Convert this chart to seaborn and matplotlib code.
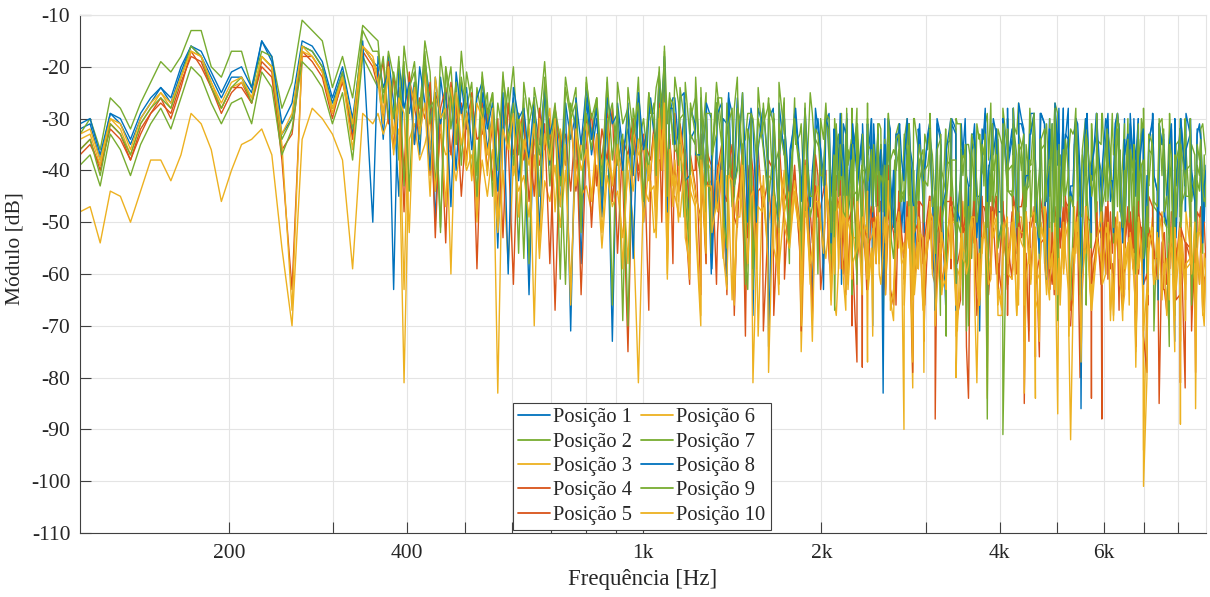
import numpy as np
import pandas as pd
import matplotlib
matplotlib.use("Agg")
import matplotlib.pyplot as plt
import seaborn as sns
from matplotlib.ticker import FixedLocator, FixedFormatter, NullFormatter, MultipleLocator, NullLocator

# ---------------- data ----------------
# sampling grids: smooth low part, noisy mid/high part, extra dense samples above 1 kHz and 2 kHz
F_LOW = np.geomspace(10 ** 2.05, 350, 30)
F_HIGH = np.geomspace(350, 10 ** 3.95, 161)[1:]
F_DENSE = np.geomspace(1030, 8800, 100)
F_DENSE2 = np.geomspace(2100, 8850, 80)

POS1_LOW = [-32, -31, -38, -29, -31, -35, -30, -27, -24, -27, -21, -16, -18, -22, -26,
            -22, -22, -25, -15, -19, -33, -30, -16, -17, -20, -27, -21, -33, -16, -19]
POS1_HIGH = [-20, -34, -18, -27, -45, -21, -29, -23, -37, -19, -26, -50, -22, -30, -25, -40, -23, -32, -28, -47,
             -25, -36, -29, -55, -27, -33, -26, -42, -30, -64, -28, -35, -24, -39, -31, -47, -27, -34, -29, -58,
             -26, -37, -30, -45, -28, -73, -27, -36, -32, -41, -26, -50, -29, -33, -24, -19, -30, -26, -38, -27,
             -34, -25, -41, -29, -60, -27, -36, -31, -46, -26, -39, -33, -68, -28, -35, -30, -44, -27, -37, -52,
             -29, -40, -32, -57, -28, -36, -31, -45, -34, -62, -30, -39, -35, -48, -31, -70, -33, -42, -30, -51,
             -32, -44, -35, -58, -31, -40, -36, -49, -33, -66, -34, -41, -31, -53, -37, -45, -32, -78, -35, -42,
             -30, -38, -28, -46, -33, -41, -29, -55, -31, -37, -28, -49, -34, -43, -30, -63, -32, -39, -29, -47,
             -31, -44, -29, -52, -33, -38, -30, -60, -35, -41, -31, -48, -34, -73, -32, -40, -30, -46, -33, -39]
POS1_DENSE = [-27, -38, -31, -44, -26, -35, -29, -53, -32, -40, -28, -36, -47, -30, -25, -39, -33, -58, -29, -37,
              -31, -43, -28, -50, -34, -38, -30, -46, -35, -65, -32, -41, -29, -48, -36, -33, -44, -31, -55, -37,
              -33, -46, -30, -41, -36, -52, -32, -39, -35, -60, -31, -45, -34, -38, -30, -49, -37, -43, -32, -71,
              -29, -42, -33, -48, -28, -37, -31, -55, -34, -40, -29, -46, -32, -39, -28, -58, -35, -43, -30, -50,
              -32, -45, -29, -41, -34, -53, -31, -38, -33, -47, -30, -64, -35, -42, -31, -49, -29, -40, -33, -44]
POS1_DENSE2 = [-34, -45, -31, -48, -36, -42, -33, -50, -30, -44, -35, -47, -32, -41, -37, -52, -31, -43, -34, -46,
               -33, -47, -30, -44, -35, -49, -32, -42, -36, -51, -31, -45, -34, -40, -30, -48, -35, -43, -32, -56,
               -31, -44, -29, -47, -34, -41, -30, -50, -33, -45, -28, -43, -35, -48, -31, -42, -29, -53, -34, -46,
               -32, -45, -30, -49, -34, -42, -31, -47, -29, -44, -35, -51, -32, -43, -30, -48, -33, -45, -31, -50]

POS2_LOW = [-33, -30, -36, -26, -28, -32, -27, -23, -19, -21, -18, -13, -13, -20, -22,
            -17, -17, -24, -17, -18, -28, -23, -11, -13, -15, -24, -18, -26, -12, -14]
POS2_HIGH = [-15, -27, -17, -22, -38, -16, -24, -19, -31, -15, -21, -44, -18, -26, -20, -35, -17, -28, -23, -41,
             -21, -31, -25, -50, -22, -29, -20, -37, -26, -58, -24, -30, -19, -34, -27, -43, -22, -29, -24, -52,
             -22, -33, -26, -40, -23, -66, -23, -31, -28, -37, -22, -46, -25, -29, -21, -16, -25, -22, -34, -23,
             -30, -22, -37, -25, -56, -23, -32, -27, -42, -22, -35, -29, -63, -24, -31, -26, -40, -23, -33, -48,
             -26, -33, -49, -25, -38, -30, -27, -61, -35, -29, -43, -28, -34, -54, -27, -40, -31, -70, -29, -36,
             -31, -36, -52, -30, -42, -33, -29, -47, -68, -32, -38, -30, -44, -35, -57, -31, -40, -29, -49, -34,
             -28, -44, -31, -27, -52, -35, -29, -40, -58, -30, -27, -37, -45, -32, -28, -49, -66, -31, -36, -29,
             -33, -29, -47, -38, -30, -55, -32, -28, -43, -71, -31, -36, -29, -50, -34, -30, -42, -61, -32, -37]
POS2_DENSE = [-29, -24, -40, -31, -35, -27, -49, -33, -26, -42, -30, -38, -25, -55, -32, -28, -44, -34, -29, -40,
              -33, -28, -45, -36, -30, -52, -35, -31, -41, -29, -60, -34, -38, -30, -47, -33, -39, -28, -43, -36,
              -35, -31, -48, -38, -33, -44, -30, -57, -36, -40, -32, -51, -37, -34, -46, -31, -66, -35, -41, -33,
              -31, -27, -44, -35, -30, -50, -33, -39, -28, -47, -34, -31, -56, -29, -42, -36, -32, -48, -30, -38,
              -34, -29, -46, -37, -31, -52, -35, -40, -30, -61, -33, -43, -36, -32, -49, -30, -45, -35, -39, -31]
POS2_DENSE2 = [-38, -33, -49, -36, -44, -31, -51, -39, -35, -46, -32, -53, -40, -37, -47, -34, -42, -30, -50, -38,
               -36, -45, -33, -52, -39, -35, -48, -31, -43, -37, -55, -34, -41, -38, -47, -32, -50, -36, -44, -33,
               -35, -47, -32, -50, -38, -34, -45, -30, -52, -37, -41, -33, -49, -36, -43, -31, -54, -35, -46, -39,
               -34, -48, -31, -44, -37, -51, -33, -42, -36, -49, -30, -46, -38, -35, -53, -32, -45, -37, -41, -34]

POS3_LOW = [-48, -47, -54, -44, -45, -50, -44, -38, -38, -42, -37, -29, -31, -36, -46,
            -40, -35, -34, -32, -37, -55, -70, -34, -28, -30, -33, -38, -59, -29, -31]
POS3_HIGH = [-29, -33, -30, -36, -32, -81, -34, -31, -38, -35, -30, -44, -33, -37, -36, -42, -34, -40, -37, -47,
             -38, -45, -36, -52, -40, -58, -39, -44, -41, -49, -37, -57, -42, -46, -39, -51, -40, -62, -38, -45,
             -43, -48, -39, -55, -41, -47, -44, -53, -40, -50, -81, -43, -46, -52, -38, -33, -41, -45, -49, -40,
             -44, -51, -39, -58, -42, -47, -53, -41, -65, -45, -49, -56, -43, -72, -46, -50, -42, -59, -47, -54,
             -45, -55, -48, -62, -44, -51, -57, -46, -68, -50, -53, -47, -60, -49, -77, -52, -48, -58, -51, -64,
             -55, -90, -50, -59, -53, -66, -49, -57, -52, -61, -48, -72, -54, -58, -51, -63, -56, -84, -50, -60,
             -53, -62, -49, -58, -55, -71, -51, -60, -47, -57, -54, -66, -50, -59, -56, -80, -52, -61, -48, -58,
             -55, -63, -51, -69, -54, -59, -50, -94, -56, -62, -52, -60, -57, -75, -53, -61, -49, -67, -55, -59]
POS3_DENSE = [-42, -51, -38, -60, -45, -48, -40, -55, -47, -70, -43, -50, -39, -57, -46, -49, -42, -63, -44, -52,
              -46, -55, -43, -62, -49, -52, -45, -75, -48, -57, -44, -53, -50, -66, -47, -56, -43, -60, -51, -54,
              -49, -58, -46, -64, -52, -55, -48, -82, -51, -60, -47, -57, -53, -68, -50, -59, -46, -63, -54, -56,
              -51, -60, -47, -66, -54, -57, -49, -73, -53, -62, -48, -58, -55, -87, -50, -61, -47, -64, -56, -59,
              -52, -61, -48, -65, -55, -58, -50, -78, -54, -63, -49, -59, -57, -70, -51, -62, -48, -67, -56, -60]
POS3_DENSE2 = [-48, -58, -45, -62, -51, -55, -47, -60, -53, -57, -46, -63, -50, -56, -48, -61, -52, -54, -47, -66,
               -50, -59, -47, -63, -53, -56, -49, -61, -54, -58, -48, -65, -51, -57, -50, -62, -55, -59, -49, -68,
               -49, -58, -46, -62, -52, -56, -48, -60, -53, -57, -47, -64, -50, -55, -49, -61, -54, -59, -48, -67,
               -50, -59, -47, -63, -53, -57, -49, -61, -54, -58, -48, -65, -51, -56, -50, -62, -55, -60, -49, -66]

POS4_LOW = [-36, -34, -40, -31, -33, -38, -32, -29, -27, -29, -23, -18, -19, -24, -29,
            -25, -23, -27, -19, -21, -38, -63, -18, -18, -21, -29, -23, -31, -16, -19]
POS4_HIGH = [-21, -30, -19, -36, -24, -48, -22, -28, -33, -20, -41, -25, -29, -54, -23, -31, -27, -38, -25, -59,
             -27, -40, -31, -48, -26, -35, -62, -29, -38, -32, -45, -28, -36, -30, -67, -33, -39, -29, -44, -34,
             -30, -51, -33, -38, -29, -46, -35, -41, -75, -31, -40, -34, -37, -32, -27, -22, -34, -40, -31, -49,
             -37, -45, -33, -58, -39, -43, -35, -64, -41, -47, -36, -53, -40, -44, -71, -38, -46, -34, -50, -42,
             -39, -56, -42, -48, -37, -63, -44, -50, -41, -59, -45, -52, -40, -78, -46, -51, -43, -57, -39, -66,
             -47, -55, -43, -62, -49, -53, -45, -88, -50, -57, -46, -61, -44, -54, -52, -68, -47, -56, -45, -60,
             -46, -59, -50, -54, -44, -73, -48, -57, -52, -63, -47, -55, -45, -70, -51, -58, -49, -84, -46, -56,
             -49, -58, -53, -66, -47, -55, -51, -62, -45, -57, -85, -52, -59, -48, -64, -54, -50, -79, -47, -60]
POS4_DENSE = [-38, -47, -35, -56, -41, -44, -37, -62, -43, -49, -36, -53, -40, -45, -38, -68, -42, -48, -37, -54,
              -43, -52, -40, -59, -46, -49, -42, -71, -45, -54, -41, -57, -47, -50, -43, -64, -48, -53, -42, -60,
              -47, -56, -44, -63, -50, -53, -46, -79, -49, -58, -45, -61, -51, -55, -47, -68, -52, -57, -46, -65,
              -48, -57, -45, -64, -51, -54, -47, -85, -50, -59, -46, -62, -52, -56, -48, -70, -53, -58, -47, -66,
              -49, -58, -46, -65, -52, -55, -48, -74, -51, -60, -47, -63, -53, -57, -49, -81, -54, -59, -48, -67]
POS4_DENSE2 = [-46, -55, -50, -60, -44, -57, -49, -63, -47, -54, -51, -59, -45, -62, -48, -56, -52, -61, -46, -58,
               -48, -57, -52, -62, -46, -59, -51, -65, -49, -56, -53, -61, -47, -64, -50, -58, -54, -63, -48, -60,
               -47, -56, -51, -61, -45, -58, -50, -64, -48, -55, -52, -60, -46, -63, -49, -57, -53, -62, -47, -59,
               -49, -58, -53, -63, -47, -60, -52, -66, -50, -57, -54, -62, -48, -65, -51, -59, -55, -64, -49, -61]

POS5_LOW = [-37, -35, -39, -32, -34, -38, -33, -29, -26, -30, -24, -17, -20, -24, -28,
            -24, -24, -27, -20, -22, -36, -33, -17, -19, -22, -30, -22, -34, -17, -20]
POS5_HIGH = [-24, -19, -31, -22, -27, -40, -21, -35, -26, -30, -23, -53, -28, -24, -37, -27, -45, -30, -26, -34,
             -33, -28, -42, -30, -53, -27, -37, -32, -29, -46, -34, -39, -31, -58, -28, -36, -33, -44, -30, -64,
             -35, -29, -43, -32, -38, -28, -56, -34, -37, -30, -42, -33, -67, -31, -30, -24, -33, -29, -44, -36,
             -40, -34, -48, -37, -44, -62, -38, -46, -35, -51, -41, -39, -56, -36, -47, -42, -68, -38, -45, -43,
             -41, -50, -38, -55, -43, -47, -40, -61, -45, -49, -42, -70, -44, -53, -46, -48, -41, -64, -47, -52,
             -44, -58, -48, -52, -46, -65, -50, -55, -47, -60, -43, -57, -51, -74, -49, -54, -45, -62, -52, -56,
             -48, -55, -45, -63, -50, -57, -47, -76, -53, -58, -49, -54, -46, -67, -52, -60, -48, -57, -51, -88,
             -47, -56, -52, -61, -49, -58, -46, -72, -51, -55, -48, -63, -53, -57, -50, -82, -46, -59, -54, -58]
POS5_DENSE = [-41, -36, -50, -39, -58, -43, -38, -47, -40, -64, -42, -37, -52, -44, -39, -49, -41, -72, -45, -38,
              -47, -42, -55, -45, -61, -48, -43, -52, -46, -69, -49, -44, -57, -47, -42, -54, -48, -77, -50, -45,
              -51, -46, -59, -49, -66, -52, -47, -56, -50, -73, -53, -48, -61, -51, -46, -58, -52, -84, -54, -49,
              -52, -47, -60, -50, -68, -53, -48, -57, -51, -76, -54, -49, -62, -52, -47, -59, -53, -80, -55, -50,
              -53, -48, -61, -51, -67, -54, -49, -58, -52, -79, -55, -50, -63, -53, -48, -60, -54, -71, -56, -51]
POS5_DENSE2 = [-52, -47, -60, -50, -57, -45, -62, -53, -49, -58, -46, -64, -51, -55, -48, -61, -54, -50, -59, -47,
               -54, -49, -62, -52, -59, -47, -64, -55, -51, -60, -48, -66, -53, -57, -50, -63, -56, -52, -61, -49,
               -53, -48, -61, -51, -58, -46, -63, -54, -50, -59, -47, -65, -52, -56, -49, -62, -55, -51, -60, -48,
               -55, -50, -63, -53, -60, -48, -65, -56, -52, -61, -49, -67, -54, -58, -51, -64, -57, -53, -62, -50]

POS6_LOW = [-34, -33, -39, -30, -32, -37, -31, -28, -25, -28, -22, -17, -18, -23, -28,
            -24, -23, -26, -18, -20, -35, -67, -17, -18, -21, -29, -22, -36, -16, -18]
POS6_HIGH = [-22, -29, -20, -33, -25, -63, -23, -27, -31, -21, -36, -26, -29, -47, -24, -32, -28, -39, -26, -50,
             -28, -37, -30, -50, -27, -33, -41, -29, -36, -31, -70, -30, -35, -28, -48, -32, -38, -29, -43, -35,
             -31, -46, -34, -39, -30, -43, -36, -40, -58, -32, -37, -35, -42, -33, -28, -25, -35, -38, -32, -47,
             -38, -44, -35, -52, -40, -42, -36, -60, -43, -46, -37, -49, -81, -39, -45, -41, -55, -38, -48, -44,
             -42, -51, -39, -58, -45, -49, -41, -65, -44, -53, -40, -57, -46, -50, -43, -60, -47, -52, -42, -69,
             -48, -54, -45, -60, -50, -57, -46, -64, -52, -56, -47, -80, -51, -58, -49, -61, -53, -55, -48, -66,
             -50, -58, -47, -62, -52, -56, -48, -68, -54, -59, -49, -61, -53, -92, -50, -57, -47, -63, -55, -58,
             -52, -60, -48, -64, -54, -57, -50, -71, -53, -61, -49, -58, -56, -66, -51, -62, -48, -86, -53, -57]
POS6_DENSE = [-40, -49, -37, -57, -43, -46, -39, -61, -44, -51, -38, -54, -42, -47, -40, -66, -45, -50, -39, -56,
              -45, -54, -42, -60, -48, -51, -44, -70, -47, -55, -43, -58, -49, -52, -45, -63, -50, -53, -44, -61,
              -50, -58, -47, -65, -53, -56, -49, -77, -52, -60, -48, -62, -54, -57, -50, -69, -55, -59, -49, -64,
              -52, -60, -49, -67, -55, -58, -51, -83, -54, -62, -50, -64, -56, -59, -52, -72, -57, -61, -51, -66,
              -53, -61, -50, -68, -56, -59, -52, -75, -55, -63, -51, -65, -57, -60, -53, -89, -58, -62, -52, -67]
POS6_DENSE2 = [-50, -59, -47, -63, -53, -56, -49, -61, -55, -58, -48, -64, -52, -57, -50, -62, -54, -55, -49, -67,
               -51, -60, -48, -64, -54, -57, -50, -62, -56, -59, -49, -66, -53, -58, -51, -63, -55, -56, -50, -68,
               -52, -61, -49, -65, -55, -58, -51, -63, -57, -60, -50, -67, -54, -59, -52, -64, -56, -57, -51, -69,
               -53, -62, -50, -66, -56, -59, -52, -64, -58, -61, -51, -68, -55, -60, -53, -65, -57, -58, -52, -70]

POS7_LOW = [-39, -37, -43, -33, -36, -41, -35, -31, -28, -32, -26, -20, -22, -27, -31,
            -27, -26, -31, -21, -24, -37, -32, -19, -21, -24, -31, -25, -38, -18, -22]
POS7_HIGH = [-24, -18, -30, -21, -27, -19, -44, -23, -28, -17, -31, -25, -52, -20, -26, -35, -22, -29, -41, -24,
             -30, -25, -45, -27, -33, -24, -39, -29, -57, -26, -31, -37, -25, -43, -28, -34, -62, -27, -32, -38,
             -29, -36, -26, -48, -31, -27, -39, -33, -70, -28, -35, -30, -41, -27, -22, -18, -28, -36, -30, -45,
             -33, -26, -40, -29, -51, -27, -35, -31, -47, -28, -38, -32, -59, -30, -36, -27, -43, -31, -37, -55,
             -32, -41, -29, -49, -34, -37, -31, -56, -35, -40, -30, -46, -36, -63, -33, -39, -31, -48, -35, -42,
             -36, -45, -33, -52, -38, -42, -34, -60, -37, -44, -35, -49, -39, -71, -36, -43, -34, -51, -38, -46,
             -91, -44, -31, -50, -36, -41, -33, -57, -35, -46, -32, -48, -37, -65, -34, -42, -31, -53, -36, -45,
             -35, -46, -32, -52, -37, -43, -34, -59, -36, -47, -33, -50, -38, -68, -35, -44, -32, -55, -37, -47]
POS7_DENSE = [-30, -41, -27, -48, -33, -37, -29, -56, -35, -43, -31, -39, -28, -51, -34, -45, -30, -62, -36, -40,
              -34, -45, -31, -52, -37, -41, -33, -58, -39, -47, -35, -43, -32, -67, -38, -49, -34, -44, -40, -54,
              -37, -48, -34, -55, -40, -44, -36, -61, -42, -50, -38, -46, -35, -72, -41, -52, -37, -47, -43, -57,
              -35, -46, -32, -53, -38, -42, -34, -59, -40, -48, -36, -44, -33, -69, -39, -50, -35, -45, -41, -55,
              -36, -47, -33, -54, -39, -43, -35, -60, -41, -49, -37, -45, -34, -74, -40, -51, -36, -46, -42, -56]
POS7_DENSE2 = [-41, -36, -48, -39, -45, -34, -52, -40, -37, -47, -35, -50, -42, -38, -46, -33, -49, -40, -44, -36,
               -43, -37, -51, -40, -46, -35, -53, -41, -38, -48, -36, -50, -43, -39, -47, -34, -55, -41, -45, -37,
               -40, -35, -49, -38, -44, -33, -51, -39, -36, -47, -34, -52, -41, -37, -45, -32, -48, -40, -43, -36,
               -42, -36, -50, -39, -46, -34, -53, -40, -37, -48, -35, -51, -42, -38, -47, -33, -49, -41, -44, -37]

POS8_LOW = [-31, -30, -37, -29, -30, -34, -29, -26, -24, -26, -20, -16, -17, -21, -25,
            -21, -20, -24, -15, -18, -31, -27, -15, -16, -19, -26, -20, -30, -15, -50]
POS8_HIGH = [-18, -24, -21, -63, -19, -28, -23, -35, -20, -27, -40, -22, -31, -25, -47, -21, -29, -24, -36, -26,
             -23, -32, -27, -44, -25, -60, -24, -30, -28, -38, -26, -52, -25, -33, -29, -41, -27, -71, -26, -35,
             -24, -34, -28, -49, -26, -31, -29, -40, -27, -57, -25, -36, -30, -32, -22, -18, -28, -35, -26, -42,
             -28, -37, -26, -45, -30, -34, -27, -62, -29, -39, -25, -50, -31, -36, -28, -74, -30, -38, -27, -44,
             -31, -39, -28, -47, -33, -36, -30, -54, -32, -41, -29, -60, -34, -38, -31, -49, -33, -83, -30, -40,
             -33, -42, -31, -50, -35, -39, -32, -58, -34, -44, -30, -67, -36, -41, -33, -53, -35, -46, -31, -43,
             -30, -39, -28, -48, -32, -41, -29, -56, -31, -38, -27, -51, -33, -44, -30, -86, -32, -40, -29, -47,
             -31, -42, -29, -54, -33, -39, -30, -62, -34, -41, -31, -49, -35, -60, -32, -43, -30, -52, -34, -40]
POS8_DENSE = [-26, -35, -30, -48, -28, -33, -25, -41, -31, -37, -27, -59, -29, -34, -26, -43, -32, -38, -28, -50,
              -29, -38, -33, -51, -31, -36, -28, -44, -34, -40, -30, -63, -32, -37, -29, -46, -35, -41, -31, -53,
              -31, -40, -35, -53, -33, -38, -30, -46, -36, -42, -32, -67, -34, -39, -31, -48, -37, -43, -33, -55,
              -28, -37, -32, -50, -30, -35, -27, -43, -33, -39, -29, -61, -31, -36, -28, -45, -34, -40, -30, -52,
              -30, -39, -34, -52, -32, -37, -29, -45, -35, -41, -31, -65, -33, -38, -30, -47, -36, -42, -32, -54]
POS8_DENSE2 = [-32, -40, -35, -46, -31, -43, -34, -49, -30, -41, -36, -45, -33, -52, -31, -39, -35, -47, -32, -42,
               -34, -44, -31, -48, -36, -41, -33, -50, -30, -43, -35, -46, -32, -40, -37, -54, -31, -42, -34, -47,
               -30, -41, -33, -45, -29, -43, -32, -48, -28, -40, -34, -46, -31, -51, -29, -39, -33, -44, -30, -42,
               -31, -43, -34, -47, -30, -40, -32, -49, -29, -44, -35, -45, -31, -53, -30, -41, -33, -46, -32, -43]

POS9_LOW = [-36, -34, -41, -31, -33, -37, -31, -28, -26, -28, -22, -16, -18, -24, -28,
            -24, -22, -27, -18, -20, -34, -30, -16, -17, -20, -28, -21, -32, -13, -17]
POS9_HIGH = [-17, -25, -22, -30, -18, -43, -24, -21, -34, -19, -28, -26, -51, -20, -32, -23, -39, -21, -27, -45,
             -22, -29, -25, -40, -21, -35, -27, -56, -23, -31, -26, -45, -22, -37, -28, -61, -24, -30, -27, -48,
             -23, -30, -26, -43, -22, -38, -28, -69, -24, -33, -27, -46, -25, -31, -20, -17, -26, -31, -24, -40,
             -27, -36, -24, -48, -29, -33, -26, -55, -28, -40, -25, -63, -30, -35, -27, -46, -29, -38, -26, -58,
             -30, -38, -27, -45, -32, -41, -29, -52, -31, -37, -28, -64, -33, -40, -30, -48, -32, -43, -29, -57,
             -33, -44, -31, -49, -35, -40, -32, -56, -34, -45, -30, -62, -36, -42, -33, -50, -35, -88, -31, -46,
             -31, -40, -28, -47, -33, -43, -29, -53, -32, -39, -28, -49, -34, -45, -30, -58, -33, -41, -29, -50,
             -32, -44, -29, -51, -34, -40, -31, -57, -33, -46, -30, -48, -35, -63, -32, -42, -30, -53, -34, -45]
POS9_DENSE = [-28, -36, -32, -45, -27, -39, -30, -52, -33, -41, -29, -37, -26, -48, -31, -43, -34, -57, -29, -38,
              -32, -40, -36, -49, -31, -43, -34, -56, -37, -45, -33, -41, -30, -52, -35, -47, -38, -62, -33, -42,
              -35, -43, -39, -52, -34, -46, -37, -59, -40, -48, -36, -44, -33, -55, -38, -50, -41, -70, -36, -45,
              -33, -41, -37, -50, -32, -44, -35, -57, -38, -46, -34, -42, -31, -53, -36, -48, -39, -64, -34, -43,
              -34, -42, -38, -51, -33, -45, -36, -58, -39, -47, -35, -43, -32, -54, -37, -49, -40, -66, -35, -44]
POS9_DENSE2 = [-37, -45, -40, -49, -35, -47, -39, -51, -36, -44, -41, -48, -38, -53, -35, -46, -40, -50, -37, -43,
               -39, -47, -36, -50, -41, -45, -38, -52, -35, -48, -42, -46, -37, -49, -40, -55, -36, -44, -39, -51,
               -36, -44, -39, -48, -34, -46, -38, -50, -35, -43, -40, -47, -37, -52, -34, -45, -39, -49, -36, -42,
               -37, -46, -40, -50, -35, -44, -38, -52, -36, -47, -41, -45, -37, -49, -35, -43, -39, -51, -38, -46]

POS10_LOW = [-33, -32, -38, -30, -31, -36, -30, -27, -25, -27, -22, -17, -18, -23, -27,
             -23, -22, -26, -18, -20, -33, -29, -16, -18, -21, -28, -22, -31, -16, -19]
POS10_HIGH = [-23, -31, -20, -37, -26, -29, -52, -24, -33, -27, -45, -22, -30, -28, -60, -25, -35, -29, -42, -27,
              -30, -41, -28, -83, -32, -36, -29, -49, -34, -39, -31, -55, -33, -38, -30, -47, -35, -66, -32, -40,
              -36, -45, -33, -52, -38, -42, -35, -59, -37, -44, -34, -50, -39, -43, -30, -27, -36, -41, -35, -53,
              -41, -48, -38, -56, -43, -46, -40, -63, -42, -49, -39, -58, -44, -47, -41, -79, -45, -50, -40, -55,
              -44, -52, -41, -59, -46, -50, -43, -66, -48, -54, -45, -61, -47, -51, -44, -72, -49, -55, -46, -63,
              -50, -57, -47, -64, -52, -59, -48, -70, -54, -58, -50, -62, -53, -60, -49, -81, -55, -58, -51, -65,
              -52, -60, -49, -66, -55, -58, -50, -73, -54, -61, -51, -64, -56, -59, -53, -77, -50, -62, -55, -58,
              -54, -61, -51, -67, -56, -59, -52, -101, -55, -62, -53, -60, -57, -69, -54, -63, -51, -72, -56, -60]
POS10_DENSE = [-44, -53, -40, -61, -47, -50, -42, -58, -46, -68, -43, -52, -48, -56, -41, -63, -49, -51, -45, -59,
               -48, -57, -45, -64, -51, -54, -47, -62, -50, -73, -46, -56, -52, -60, -45, -67, -53, -55, -49, -63,
               -52, -60, -49, -67, -55, -58, -51, -65, -54, -79, -50, -59, -56, -63, -49, -71, -57, -58, -53, -66,
               -53, -61, -50, -68, -56, -59, -52, -66, -55, -84, -51, -60, -57, -64, -50, -72, -58, -59, -54, -67,
               -54, -62, -51, -69, -57, -60, -53, -67, -56, -80, -52, -61, -58, -65, -51, -73, -59, -60, -55, -68]
POS10_DENSE2 = [-53, -47, -61, -50, -58, -46, -64, -52, -56, -49, -62, -54, -48, -60, -51, -66, -55, -47, -59, -53,
                -55, -49, -63, -52, -60, -48, -66, -54, -58, -51, -64, -56, -50, -62, -53, -68, -57, -49, -61, -55,
                -54, -48, -62, -51, -59, -47, -65, -53, -57, -50, -63, -55, -49, -61, -52, -67, -56, -48, -60, -54,
                -56, -50, -64, -53, -61, -49, -67, -55, -59, -52, -65, -57, -51, -63, -54, -69, -58, -50, -62, -56]

LABELS = [f"Posição {i}" for i in range(1, 11)]
COLORS = ["#0072BD", "#77AC30", "#EDB120", "#D95319", "#D95319",
          "#EDB120", "#77AC30", "#0072BD", "#77AC30", "#EDB120"]
SERIES = [(POS1_LOW, POS1_HIGH, POS1_DENSE, POS1_DENSE2),
          (POS2_LOW, POS2_HIGH, POS2_DENSE, POS2_DENSE2),
          (POS3_LOW, POS3_HIGH, POS3_DENSE, POS3_DENSE2),
          (POS4_LOW, POS4_HIGH, POS4_DENSE, POS4_DENSE2),
          (POS5_LOW, POS5_HIGH, POS5_DENSE, POS5_DENSE2),
          (POS6_LOW, POS6_HIGH, POS6_DENSE, POS6_DENSE2),
          (POS7_LOW, POS7_HIGH, POS7_DENSE, POS7_DENSE2),
          (POS8_LOW, POS8_HIGH, POS8_DENSE, POS8_DENSE2),
          (POS9_LOW, POS9_HIGH, POS9_DENSE, POS9_DENSE2),
          (POS10_LOW, POS10_HIGH, POS10_DENSE, POS10_DENSE2)]

XMAJOR = [200, 400, 1000, 2000, 4000, 6000]
XMAJOR_LABELS = ["200", "400", "1k", "2k", "4k", "6k"]
XMINOR = [300, 500, 600, 700, 800, 900, 3000, 5000, 7000, 8000]

# ---------------- build long table ----------------
grids = [F_LOW, F_HIGH, F_DENSE, F_DENSE2]
freq = np.concatenate(grids)
order = np.argsort(freq, kind="stable")
frames = []
for lab, parts in zip(LABELS, SERIES):
    for g, p in zip(grids, parts):
        assert len(g) == len(p), (lab, len(g), len(p))
    vals = np.array(sum(parts, []), float)
    frames.append(pd.DataFrame({"freq": freq[order], "db": vals[order], "pos": lab}))
df = pd.concat(frames, ignore_index=True)

# ---------------- style ----------------
sns.set_theme(style="white")
plt.rcParams["font.family"] = ["Liberation Serif", "DejaVu Serif"]
plt.rcParams["axes.unicode_minus"] = False

fig = plt.figure(figsize=(12.1, 5.97), dpi=100)
ax = fig.add_axes([80 / 1210, 64 / 597, 1126 / 1210, 518 / 597])

sns.lineplot(data=df, x="freq", y="db", hue="pos", hue_order=LABELS,
             palette=dict(zip(LABELS, COLORS)), estimator=None, sort=False,
             linewidth=1.0, ax=ax)

ax.set_xscale("log")
ax.set_xlim(10 ** 2.05, 10 ** 3.95)
ax.set_ylim(-110, -10)

ax.xaxis.set_major_locator(FixedLocator(XMAJOR))
ax.xaxis.set_major_formatter(FixedFormatter(XMAJOR_LABELS))
ax.xaxis.set_minor_locator(FixedLocator(XMINOR))
ax.xaxis.set_minor_formatter(NullFormatter())
ax.yaxis.set_major_locator(MultipleLocator(10))
ax.yaxis.set_minor_locator(NullLocator())

ax.grid(True, which="major", color="#e4e4e4", linewidth=0.8)
ax.grid(True, which="minor", axis="x", color="#e4e4e4", linewidth=0.8)
ax.set_axisbelow(True)

for side in ["left", "bottom"]:
    ax.spines[side].set_color("#404040")
    ax.spines[side].set_linewidth(0.8)
for side in ["top", "right"]:
    ax.spines[side].set_color("#e4e4e4")
    ax.spines[side].set_linewidth(0.8)

ax.tick_params(axis="both", which="both", direction="in", length=8, width=0.8,
               color="#404040", labelsize=15.5, labelcolor="#262626",
               top=False, right=False, bottom=True, left=True)
ax.tick_params(axis="x", pad=8)
ax.tick_params(axis="y", pad=7)

ax.set_xlabel("Frequência [Hz]", fontsize=16.5, color="#262626", labelpad=4)
ax.set_ylabel("Módulo [dB]", fontsize=15.5, color="#262626")
ax.yaxis.set_label_coords(-0.049, 0.55)

handles, labs = ax.get_legend_handles_labels()
leg = ax.legend(handles, labs, ncol=2, loc="lower left", bbox_to_anchor=(0.3845, 0.006),
                frameon=True, fancybox=False, edgecolor="#404040", framealpha=1,
                fontsize=14.8, labelspacing=0.24, handlelength=1.55, handletextpad=0.15,
                columnspacing=0.45, borderpad=0.25, borderaxespad=0)
leg.get_frame().set_linewidth(0.8)
for line in leg.get_lines():
    line.set_linewidth(1.3)

fig.savefig("out.png", dpi=100)
